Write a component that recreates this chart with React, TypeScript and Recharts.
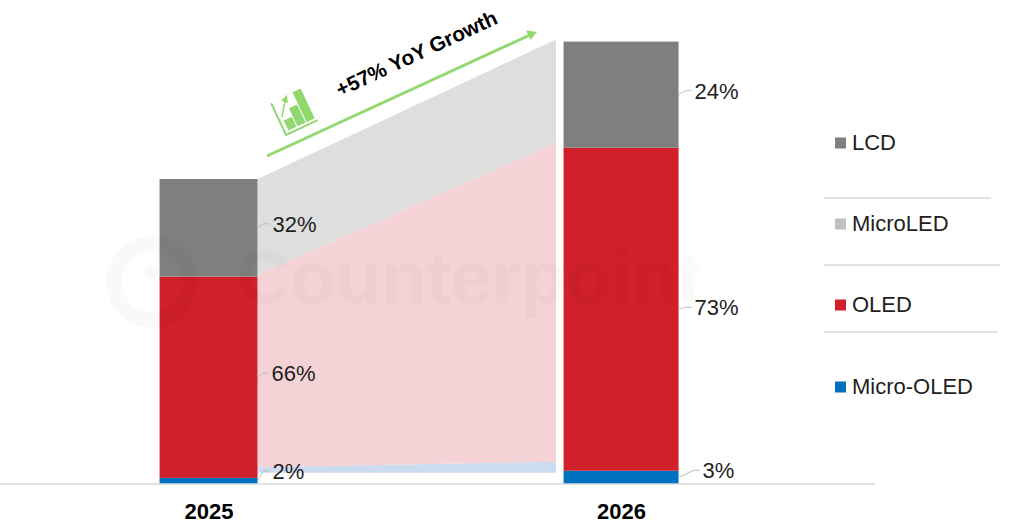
import React from 'react';
import { Area, Bar, ComposedChart, LabelList, XAxis, YAxis } from 'recharts';

// bars, sized so that 2025 = 100
const years = [2025, 2026];
const microOled = [2, 4.35];
const microLed = [0, 0];
const oled = [66, 105.9];
const lcd = [32, 34.8];

// printed shares
const microOledShare = [2, 3];
const oledShare = [66, 73];
const lcdShare = [32, 24];

// shaded bands between the two bars
const bandX = [2025.119, 2025.841];
const bandBase = [3.7, 3.7];
const bandBlue = [1.8, 3.6];
const bandRed = [63.1, 104.6];
const bandGray = [31.5, 33.8];

const legendNames = ['LCD', 'MicroLED', 'OLED', 'Micro-OLED'];
const legendColors = ['#7f7f7f', '#bfbfbf', '#cf202c', '#0070c0'];

const FONT = '"Liberation Sans", Arial, sans-serif';
const TEXT = '#1f1f1f';
const GREEN = '#92d870';
const BAR_WIDTH: Record<number, number> = { 2025: 98, 2026: 115 };

const rows = [
  { x: years[0], microOled: microOled[0], microLed: microLed[0], oled: oled[0], lcd: lcd[0] },
  { x: bandX[0], bandBase: bandBase[0], bandBlue: bandBlue[0], bandRed: bandRed[0], bandGray: bandGray[0] },
  { x: bandX[1], bandBase: bandBase[1], bandBlue: bandBlue[1], bandRed: bandRed[1], bandGray: bandGray[1] },
  { x: years[1], microOled: microOled[1], microLed: microLed[1], oled: oled[1], lcd: lcd[1] },
];

const VariableBar = (props: any) => {
  const { x, y, width, height, fill, payload } = props;
  const w = BAR_WIDTH[payload.x];
  if (!w || !height) return null;
  return <rect x={x + width / 2 - w / 2} y={y} width={w} height={height} fill={fill} />;
};

// lift: text centre above segment centre, gap: text start right of the bar
const shareLabel = (shares: number[], lift: number[], gap: number[]) => (props: any) => {
  const { x, y, width, height, index } = props;
  const slot = index === 0 ? 0 : index === 3 ? 1 : -1;
  if (slot < 0) return null;
  const right = x + width / 2 + BAR_WIDTH[years[slot]] / 2;
  const cy = y + height / 2;
  const ty = cy - lift[slot];
  const g = gap[slot];
  return (
    <g>
      <polyline
        points={`${right},${cy} ${right + g - 9},${ty} ${right + g - 3},${ty}`}
        fill="none"
        stroke="#bdbdbd"
        strokeWidth={1}
      />
      <text x={right + g} y={ty + 8} fontFamily={FONT} fontSize={22} fill={TEXT}>
        {shares[slot]}%
      </text>
    </g>
  );
};

const Overlay = () => (
  <svg width={1024} height={525} style={{ position: 'absolute', left: 0, top: 0, pointerEvents: 'none' }}>
    {/* watermark */}
    <g opacity={0.018} fill="#000">
      <circle cx={152} cy={282} r={38} fill="none" stroke="#000" strokeWidth={15} />
      <circle cx={152} cy={272} r={7} />
      <text x={237} y={303} fontFamily={FONT} fontWeight="bold" fontSize={74}>
        Counterpoint
      </text>
    </g>

    {/* growth arrow */}
    <line x1={267} y1={156} x2={530} y2={35} stroke={GREEN} strokeWidth={3} />
    <polygon points="537,32 526,30.5 530.5,40" fill={GREEN} />
    <text
      transform="translate(340 97) rotate(-25)"
      fontFamily={FONT}
      fontWeight="bold"
      fontSize={20.7}
      fill="#000"
    >
      +57% YoY Growth
    </text>

    {/* growth icon */}
    <g transform="translate(286 135) rotate(-25)" fill={GREEN}>
      <polyline points="0,-35 0,0 35,0" fill="none" stroke={GREEN} strokeWidth={2} />
      <rect x={4} y={-14} width={9} height={11} />
      <rect x={14} y={-23} width={9} height={20} />
      <rect x={24} y={-36} width={9} height={33} />
      <line x1={4} y1={-18} x2={14} y2={-32} stroke={GREEN} strokeWidth={1.5} />
      <polygon points="18,-36 10,-33 15,-28" />
    </g>

    {/* legend */}
    {legendNames.map((name, i) => {
      const y = [143, 224, 305, 387][i];
      return (
        <g key={name}>
          <rect x={835} y={y - 5.5} width={11} height={11} fill={legendColors[i]} />
          <text x={852} y={y + 7} fontFamily={FONT} fontSize={22} fill={TEXT}>
            {name}
          </text>
        </g>
      );
    })}
    <line x1={824} y1={198} x2={991} y2={198} stroke="#d9d9d9" strokeWidth={1.5} />
    <line x1={824} y1={265} x2={1000} y2={265} stroke="#d9d9d9" strokeWidth={1.5} />
    <line x1={824} y1={332} x2={998} y2={332} stroke="#d9d9d9" strokeWidth={1.5} />
  </svg>
);

export default function App() {
  return (
    <div style={{ position: 'absolute', left: 0, top: 0, width: 1024, height: 525, background: '#fff' }}>
      <ComposedChart
        width={1024}
        height={525}
        data={rows}
        margin={{ top: 26.5, right: 149, bottom: 0, left: 0 }}
      >
        <XAxis
          dataKey="x"
          type="number"
          domain={[2024.4933, 2026.6145]}
          ticks={years}
          tickFormatter={(v: number) => String(v)}
          height={41}
          tickLine={false}
          tickMargin={13}
          axisLine={{ stroke: '#d9d9d9', strokeWidth: 1.5 }}
          tick={{ fontFamily: FONT, fontSize: 22, fontWeight: 'bold', fill: '#000' }}
        />
        <YAxis hide domain={[0, 150]} />

        <Area dataKey="bandBase" stackId="bands" fill="none" stroke="none" isAnimationActive={false} />
        <Area dataKey="bandBlue" stackId="bands" fill="#ccdcf0" fillOpacity={1} stroke="none" isAnimationActive={false} />
        <Area dataKey="bandRed" stackId="bands" fill="#f5d2d5" fillOpacity={1} stroke="none" isAnimationActive={false} />
        <Area dataKey="bandGray" stackId="bands" fill="#dedede" fillOpacity={1} stroke="none" isAnimationActive={false} />

        <Bar dataKey="microOled" stackId="bars" barSize={100} fill="#0070c0" shape={VariableBar} isAnimationActive={false}>
          <LabelList dataKey="microOled" content={shareLabel(microOledShare, [10, 7], [15, 24])} />
        </Bar>
        <Bar dataKey="oled" stackId="bars" barSize={100} fill="#cf202c" shape={VariableBar} isAnimationActive={false}>
          <LabelList dataKey="oled" content={shareLabel(oledShare, [4, 2], [14, 16])} />
        </Bar>
        <Bar dataKey="microLed" stackId="bars" barSize={100} fill="#bfbfbf" shape={VariableBar} isAnimationActive={false} />
        <Bar dataKey="lcd" stackId="bars" barSize={100} fill="#7f7f7f" shape={VariableBar} isAnimationActive={false}>
          <LabelList dataKey="lcd" content={shareLabel(lcdShare, [4, 4], [15, 16])} />
        </Bar>
      </ComposedChart>
      <Overlay />
    </div>
  );
}
